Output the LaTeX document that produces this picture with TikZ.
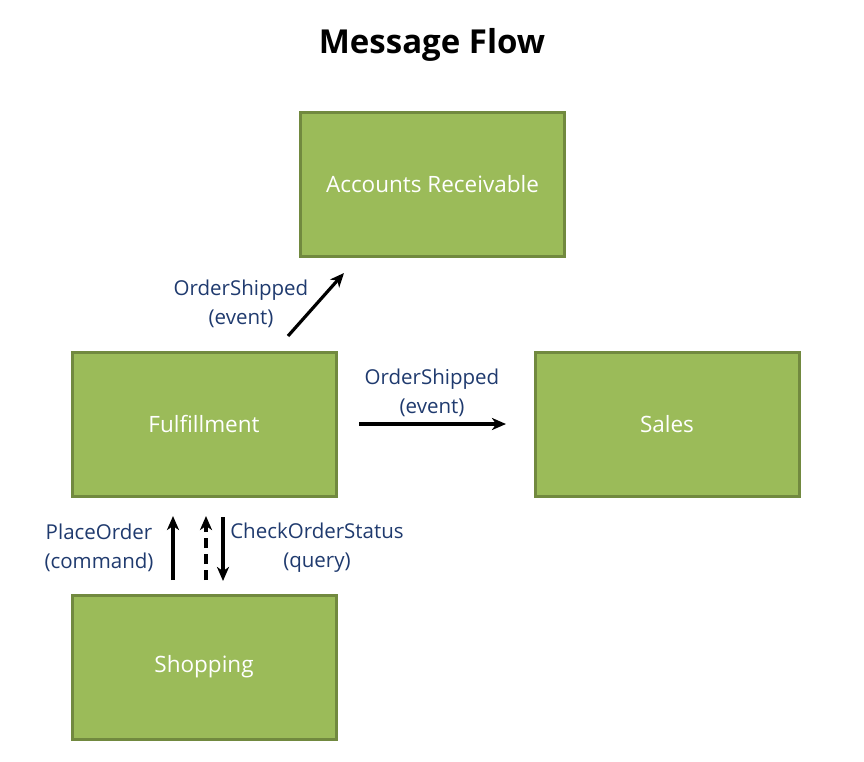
\documentclass[tikz,border=0pt]{standalone}
\usepackage{fontspec}
\setmainfont{Open Sans}
\newfontfamily\titlefont{Open Sans}
\usetikzlibrary{arrows.meta}
\definecolor{boxfill}{HTML}{9BBB59}
\definecolor{boxline}{HTML}{71893F}
\definecolor{lbl}{HTML}{1F3A6E}
\tikzset{
  sys/.style={draw=boxline, fill=boxfill, line width=3pt, minimum width=264pt, minimum height=144pt, inner sep=0pt, text=white, font=\fontsize{22.5}{26}\selectfont},
  msg/.style={line width=3.2pt, -{Stealth[length=14pt,width=12pt,inset=4pt]}},
  lbltext/.style={text=lbl, align=center, font=\fontsize{20.5}{29}\selectfont, inner sep=0pt}
}
\begin{document}
\begin{tikzpicture}[x=1pt,y=-1pt]
\useasboundingbox (0,0) rectangle (864,761);
\node[font=\titlefont\bfseries\fontsize{33}{38}\selectfont] (title) at (432,45) {Message Flow};
\node[sys] (ar) at (432.5,184) {Accounts Receivable};
\node[sys] (ful) at (204,424) {Fulfillment};
\node[sys] (sales) at (667,424) {Sales};
\node[sys] (shop) at (204,667) {Shopping};
\coordinate (d1) at (288,336);
\coordinate (d2) at (344,273);
\coordinate (h1) at (359,424);
\coordinate (h2) at (506,424);
\coordinate (p1) at (173,580);
\coordinate (p2) at (173,516);
\coordinate (c1) at (206,580);
\coordinate (c2) at (206,516);
\coordinate (r1) at (223,517);
\coordinate (r2) at (223,581);
\draw[msg] (d1) -- (d2);
\draw[msg] (h1) -- (h2);
\draw[msg] (p1) -- (p2);
\draw[msg, dash pattern=on 10pt off 6pt] (c1) -- (c2);
\draw[msg] (r1) -- (r2);
\node[lbltext] (l1) at (241,304) {OrderShipped\\(event)};
\node[lbltext] (l2) at (432,393) {OrderShipped\\(event)};
\node[lbltext] (l3) at (99,548) {PlaceOrder\\(command)};
\node[lbltext] (l4) at (317,548) {CheckOrderStatus\\(query)};
\end{tikzpicture}
\end{document}
